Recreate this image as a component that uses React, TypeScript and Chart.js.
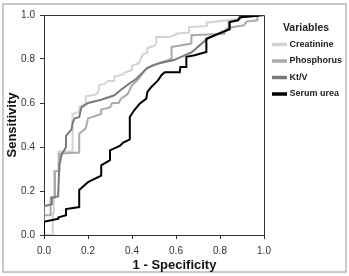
import React, { useEffect, useRef } from "react";
import { Chart, registerables } from "chart.js";

Chart.register(...registerables);

const FONT = '"Liberation Sans", Arial, Helvetica, sans-serif';

const legendTitle = "Variables";
const xAxisTitle = "1 - Specificity";
const yAxisTitle = "Sensitivity";
const seriesNames = ["Creatinine", "Phosphorus", "Kt/V", "Serum urea"];
const seriesColors = ["#d3d3d3", "#aaaaaa", "#7a7a7a", "#000000"];

const creatinineX = [0, 0.04, 0.04, 0.045, 0.045, 0.065, 0.065, 0.13, 0.13, 0.16, 0.16, 0.19, 0.19, 0.24, 0.25, 0.25, 0.28, 0.29, 0.32, 0.32, 0.36, 0.37, 0.40, 0.40, 0.43, 0.44, 0.45, 0.47, 0.47, 0.50, 0.51, 0.51, 0.57, 0.60, 0.60, 0.66, 0.66, 0.74, 0.74, 0.86, 0.88, 0.89, 1.0];
const creatinineY = [0, 0, 0.1, 0.1, 0.29, 0.29, 0.38, 0.38, 0.55, 0.56, 0.58, 0.6, 0.63, 0.64, 0.66, 0.68, 0.69, 0.70, 0.70, 0.72, 0.73, 0.74, 0.75, 0.77, 0.78, 0.80, 0.82, 0.83, 0.85, 0.86, 0.87, 0.90, 0.90, 0.91, 0.915, 0.92, 0.945, 0.95, 0.965, 0.98, 0.98, 0.99, 1.0];

const phosphorusX = [0, 0, 0.03, 0.03, 0.05, 0.05, 0.07, 0.07, 0.16, 0.16, 0.19, 0.20, 0.26, 0.26, 0.30, 0.31, 0.34, 0.35, 0.38, 0.39, 0.40, 0.42, 0.43, 0.46, 0.49, 0.58, 0.58, 0.67, 0.67, 0.82, 0.83, 0.86, 0.91, 0.92, 0.97, 0.97, 1.0];
const phosphorusY = [0, 0.09, 0.09, 0.17, 0.17, 0.29, 0.29, 0.37, 0.375, 0.46, 0.485, 0.53, 0.55, 0.57, 0.58, 0.60, 0.60, 0.62, 0.64, 0.66, 0.68, 0.70, 0.71, 0.75, 0.77, 0.80, 0.855, 0.87, 0.908, 0.915, 0.938, 0.945, 0.953, 0.97, 0.976, 1.0, 1.0];

const ktvX = [0, 0, 0.034, 0.036, 0.064, 0.07, 0.08, 0.10, 0.10, 0.125, 0.13, 0.14, 0.16, 0.17, 0.20, 0.26, 0.32, 0.35, 0.39, 0.42, 0.47, 0.52, 0.59, 0.67, 0.74, 0.81, 0.84, 0.84, 0.88, 0.90, 0.97, 1.0];
const ktvY = [0, 0.13, 0.14, 0.17, 0.175, 0.32, 0.365, 0.40, 0.45, 0.48, 0.51, 0.53, 0.535, 0.58, 0.60, 0.615, 0.635, 0.66, 0.69, 0.71, 0.76, 0.78, 0.795, 0.83, 0.89, 0.923, 0.935, 0.968, 0.976, 0.99, 1.0, 1.0];

const ureaX = [0, 0, 0.064, 0.065, 0.10, 0.10, 0.16, 0.16, 0.20, 0.26, 0.26, 0.30, 0.30, 0.344, 0.36, 0.39, 0.39, 0.41, 0.435, 0.465, 0.47, 0.488, 0.518, 0.534, 0.549, 0.617, 0.62, 0.647, 0.647, 0.685, 0.738, 0.738, 0.814, 0.844, 0.844, 0.882, 0.89, 0.965, 1.0];
const ureaY = [0, 0.06, 0.074, 0.08, 0.09, 0.118, 0.127, 0.205, 0.24, 0.27, 0.317, 0.34, 0.385, 0.405, 0.42, 0.435, 0.536, 0.567, 0.597, 0.62, 0.65, 0.673, 0.703, 0.726, 0.74, 0.74, 0.764, 0.764, 0.81, 0.817, 0.832, 0.892, 0.923, 0.935, 0.968, 0.976, 0.99, 0.995, 1.0];

const seriesX = [creatinineX, phosphorusX, ktvX, ureaX];
const seriesY = [creatinineY, phosphorusY, ktvY, ureaY];

function pts(xs: number[], ys: number[]) {
  return xs.map((x, i) => ({ x, y: ys[i] }));
}

const framePlugin = {
  id: "frame",
  beforeDraw(chart: any) {
    const ctx = chart.ctx;
    ctx.save();
    ctx.fillStyle = "#ffffff";
    ctx.fillRect(0, 0, chart.width, chart.height);
    ctx.strokeStyle = "#b8b8b8";
    ctx.lineWidth = 1.5;
    ctx.strokeRect(3, 4, chart.width - 6, chart.height - 8);
    ctx.restore();
  },
  afterDraw(chart: any) {
    const ctx = chart.ctx;
    const a = chart.chartArea;
    ctx.save();
    ctx.strokeStyle = "#333333";
    ctx.lineWidth = 1;
    ctx.beginPath();
    ctx.moveTo(a.left, a.top + 0.5);
    ctx.lineTo(a.right + 0.5, a.top + 0.5);
    ctx.lineTo(a.right + 0.5, a.bottom);
    ctx.stroke();
    // legend
    const lx = a.right + 8;
    ctx.fillStyle = "#222222";
    ctx.font = `bold 10.5px ${FONT}`;
    ctx.textAlign = "center";
    ctx.textBaseline = "middle";
    ctx.fillText(legendTitle, lx + 34, a.top + 13);
    chart.data.datasets.forEach((ds: any, i: number) => {
      const y = a.top + 29.5 + i * 16.5;
      ctx.strokeStyle = ds.borderColor;
      ctx.lineWidth = 3.5;
      ctx.beginPath();
      ctx.moveTo(lx, y);
      ctx.lineTo(lx + 15, y);
      ctx.stroke();
      ctx.font = `bold 9px ${FONT}`;
      ctx.textAlign = "left";
      ctx.fillStyle = "#222222";
      ctx.fillText(ds.label, lx + 17.5, y);
    });
    ctx.restore();
  },
};

export default function App() {
  const ref = useRef<HTMLCanvasElement | null>(null);
  useEffect(() => {
    if (!ref.current) return;
    const chart = new Chart(ref.current, {
      type: "line",
      data: {
        datasets: seriesNames.map((name, i) => ({
          label: name,
          data: pts(seriesX[i], seriesY[i]),
          borderColor: seriesColors[i],
          backgroundColor: seriesColors[i],
          borderWidth: 2,
          pointRadius: 0,
          tension: 0,
          fill: false,
          order: 3 - i,
        })),
      },
      options: {
        animation: false,
        responsive: false,
        devicePixelRatio: 1,
        layout: { padding: { left: 3, right: 3, top: 15, bottom: 3 } },
        plugins: {
          legend: { display: false },
          tooltip: { enabled: false },
          title: {
            display: true,
            position: "bottom",
            text: xAxisTitle,
            color: "#111111",
            font: { family: FONT, size: 13, weight: "bold", lineHeight: 1.2 },
            padding: { top: 0, bottom: 0 },
          },
        },
        scales: {
          x: {
            type: "linear",
            min: 0,
            max: 1,
            afterFit: (s: any) => {
              s.height = 22.4;
            },
            ticks: {
              stepSize: 0.2,
              padding: 6,
              color: "#333333",
              font: { family: FONT, size: 10 },
              callback: (v: any) => Number(v).toFixed(1),
              maxRotation: 0,
            },
            grid: { display: true, drawOnChartArea: false, drawTicks: true, tickLength: 4, color: "#333333" },
            border: { display: true, color: "#333333", width: 1 },
          },
          y: {
            type: "linear",
            min: 0,
            max: 1,
            afterFit: (s: any) => {
              s.width = 41;
            },
            ticks: {
              stepSize: 0.2,
              padding: 5,
              color: "#333333",
              font: { family: FONT, size: 10 },
              callback: (v: any) => Number(v).toFixed(1),
            },
            grid: { display: true, drawOnChartArea: false, drawTicks: true, tickLength: 4, color: "#333333" },
            border: { display: true, color: "#333333", width: 1 },
            title: {
              display: true,
              text: yAxisTitle,
              color: "#111111",
              font: { family: FONT, size: 13, weight: "bold", lineHeight: 1.2 },
              padding: { top: 2, bottom: 0 },
            },
          },
          yR: {
            type: "linear",
            position: "right",
            display: true,
            min: 0,
            max: 1,
            afterFit: (s: any) => {
              s.width = 82;
            },
            ticks: { display: false },
            grid: { display: false },
            border: { display: false },
          },
        },
      },
      plugins: [framePlugin],
    } as any);
    return () => chart.destroy();
  }, []);
  return (
    <div style={{ position: "fixed", left: 0, top: 0, width: 349, height: 276 }}>
      <canvas ref={ref} width={349} height={276} />
    </div>
  );
}
